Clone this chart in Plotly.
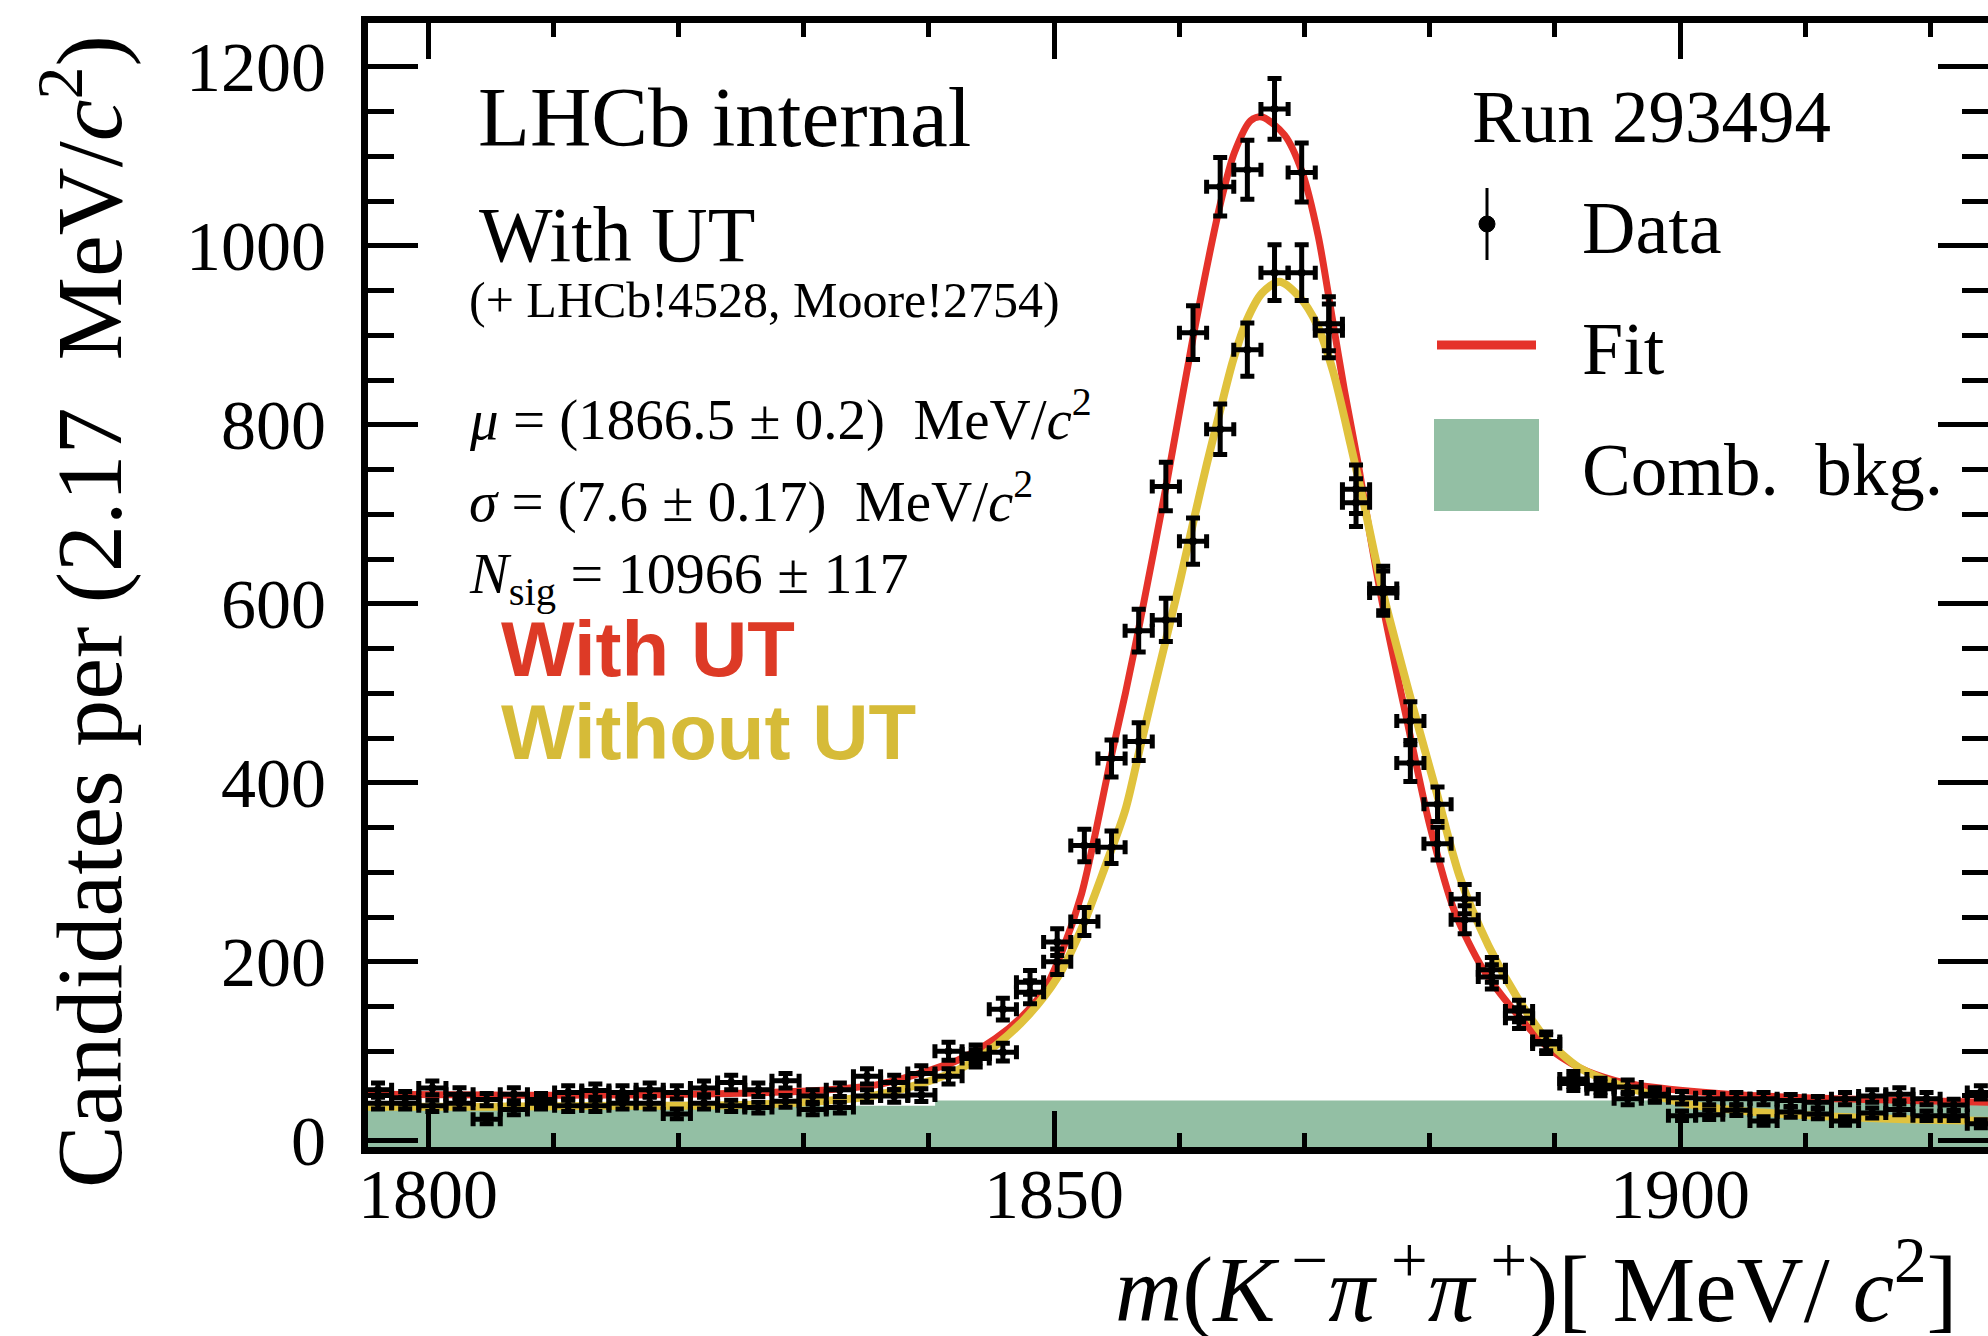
import numpy as np
import plotly.graph_objects as go

# ---------------- data ----------------
bin_width = 2.17
mass_centers = [1796.00, 1798.17, 1800.34, 1802.51, 1804.68, 1806.85, 1809.02, 1811.19, 1813.36, 1815.53,
                1817.70, 1819.87, 1822.04, 1824.21, 1826.38, 1828.55, 1830.72, 1832.89, 1835.06, 1837.23,
                1839.40, 1841.57, 1843.74, 1845.91, 1848.08, 1850.25, 1852.42, 1854.59, 1856.76, 1858.93,
                1861.10, 1863.27, 1865.44, 1867.61, 1869.78, 1871.95, 1874.12, 1876.29, 1878.46, 1880.63,
                1882.80, 1884.97, 1887.14, 1889.31, 1891.48, 1893.65, 1895.82, 1897.99, 1900.16, 1902.33,
                1904.50, 1906.67, 1908.84, 1911.01, 1913.18, 1915.35, 1917.52, 1919.69, 1921.86, 1924.03]

counts_with_ut = [57, 48, 59, 52, 46, 52, 46, 54, 56, 54,
                  57, 54, 59, 65, 57, 67, 50, 57, 72, 65,
                  75, 100, 97, 147, 177, 222, 330, 427, 570, 731,
                  903, 1066, 1085, 1153, 1082, 913, 728, 617, 422, 332,
                  247, 183, 137, 108, 69, 62, 60, 52, 48, 47,
                  47, 47, 45, 43, 47, 50, 52, 47, 40, 54]

counts_without_ut = [42, 42, 39, 42, 24, 35, 42, 39, 39, 42,
                     42, 30, 42, 39, 37, 44, 35, 37, 50, 50,
                     51, 72, 92, 99, 166, 200, 245, 328, 446, 582,
                     670, 795, 884, 970, 970, 905, 713, 612, 469, 376,
                     270, 191, 145, 111, 64, 58, 47, 50, 28, 29,
                     34, 22, 32, 30, 22, 31, 35, 28, 28, 19]

fit_mass_with_ut = [1795, 1805, 1815, 1825, 1832, 1836, 1839.2, 1842.3, 1845.3, 1847.3, 1849.2, 1850.7,
                    1852.2, 1853.4, 1854.5, 1855.7, 1856.8, 1859.0, 1861.2, 1863.3, 1864.4, 1865.7,
                    1866.6, 1868.4, 1869.8, 1871.1, 1872.2, 1873.2, 1874.3, 1875.3, 1876.4, 1878.2,
                    1880.0, 1882.0, 1884.3, 1887.0, 1889.3, 1891.9, 1894.9, 1897.7, 1905, 1915, 1925]
fit_value_with_ut = [52, 51, 51, 53, 57, 63, 75, 90, 114, 137, 168, 214,
                     276, 350, 425, 500, 575, 735, 905, 1048, 1104, 1140,
                     1144, 1124, 1083, 1011, 921, 838, 756, 672, 588, 469,
                     353, 256, 191, 141, 106, 82, 67, 60, 51, 46, 43]

fit_mass_without_ut = [1795, 1805, 1815, 1825, 1830, 1835, 1839.2, 1842.3, 1845.3, 1848.0, 1850.3, 1852.2,
                       1854.1, 1855.7, 1856.8, 1857.9, 1859.2, 1860.1, 1861.1, 1862.2, 1863.3, 1864.3,
                       1865.4, 1866.6, 1868.0, 1869.6, 1871.0, 1872.3, 1873.7, 1874.7, 1876.3, 1878.6,
                       1880.5, 1882.4, 1884.7, 1887.0, 1889.3, 1891.9, 1895.0, 1897.6, 1901, 1906,
                       1912, 1918, 1925]
fit_value_without_ut = [38, 38, 39, 40, 43, 49, 63, 79, 106, 141, 183, 237,
                        307, 370, 435, 500, 575, 628, 690, 756, 818, 872,
                        917, 947, 960, 943, 912, 859, 777, 715, 611, 488,
                        392, 295, 218, 160, 114, 82, 63, 52, 40, 32,
                        27, 24, 22]

bkg_mass = [1795.2, 1840.5, 1840.5, 1924.6]
bkg_value = [39, 39, 45, 45]

x_range = [1795.2, 1924.6]
y_range = [-7, 1249]
x_ticks = [1800, 1850, 1900]
y_ticks = [0, 200, 400, 600, 800, 1000, 1200]

# ---------------- styling ----------------
W, H = 1988, 1336
L, R, T, B = 368, 0, 23, 189
PW, PH = W - L - R, H - T - B
RED = "#E5322A"
YELLOW = "#E0C23D"
GREEN = "#93BFA4"
SERIF = "Liberation Serif"
SANS = "Liberation Sans"


def fx(px):
    return (px - L) / PW


def fy(py):
    return (H - B - py) / PH


half_bin = [bin_width / 2] * len(mass_centers)

fig = go.Figure()

# floor of the frame, so the background band reaches the bottom axis
fig.add_trace(go.Scatter(x=[x_range[0], x_range[1]], y=[y_range[0], y_range[0]], mode="lines",
                         line=dict(width=0, color=GREEN), showlegend=False, hoverinfo="skip"))
fig.add_trace(go.Scatter(x=bkg_mass, y=bkg_value, mode="lines", fill="tonexty",
                         fillcolor=GREEN, line=dict(width=0, color=GREEN),
                         name="Comb. bkg.", showlegend=False, hoverinfo="skip"))
fig.add_trace(go.Scatter(x=fit_mass_with_ut, y=fit_value_with_ut, mode="lines",
                         line=dict(color=RED, width=7, shape="spline", smoothing=0.8),
                         name="Fit (with UT)", showlegend=False))
fig.add_trace(go.Scatter(x=fit_mass_without_ut, y=fit_value_without_ut, mode="lines",
                         line=dict(color=YELLOW, width=8, shape="spline", smoothing=0.8),
                         name="Fit (without UT)", showlegend=False))

for counts, nm in [(counts_with_ut, "Data (with UT)"), (counts_without_ut, "Data (without UT)")]:
    fig.add_trace(go.Scatter(
        x=mass_centers, y=counts, mode="markers", name=nm, showlegend=False,
        marker=dict(color="black", size=8),
        error_y=dict(type="data", array=np.sqrt(np.array(counts, dtype=float)),
                     color="black", thickness=5, width=7),
        error_x=dict(type="data", array=half_bin, color="black", thickness=5, width=7),
    ))

axis_common = dict(showline=True, linecolor="black", linewidth=7, mirror="allticks",
                   ticks="inside", tickcolor="black", tickwidth=5, showgrid=False,
                   zeroline=False, tickfont=dict(family=SERIF, size=70, color="black"))

fig.update_xaxes(range=x_range, tickvals=x_ticks, ticklen=36,
                 ticklabelstandoff=-20,
                 minor=dict(dtick=10, tick0=1800, ticks="inside", ticklen=14,
                            tickwidth=5, tickcolor="black"),
                 **axis_common)
fig.update_yaxes(range=y_range, tickvals=y_ticks, ticklen=50,
                 ticklabelstandoff=21,
                 minor=dict(dtick=50, tick0=0, ticks="inside", ticklen=26,
                            tickwidth=5, tickcolor="black"),
                 **axis_common)

ann = []


def text(px, py, s, size, family=SERIF, color="black", xanchor="left", angle=0):
    ann.append(dict(x=fx(px), y=fy(py), xref="paper", yref="paper", text=s, showarrow=False,
                    xanchor=xanchor, yanchor="middle", textangle=angle,
                    font=dict(family=family, size=size, color=color)))


text(476, 117, "LHCb internal", 85)
text(477, 235, "With UT", 78)
text(467, 300, "(+ LHCb!4528, Moore!2754)", 50)
text(467, 415, "<i>μ</i> = (1866.5 ± 0.2)  MeV/<i>c</i><sup>2</sup>", 57)
text(467, 497, "<i>σ</i> = (7.6 ± 0.17)  MeV/<i>c</i><sup>2</sup>", 57)
text(467, 577, "<i>N</i><sub>sig</sub> = 10966 ± 117", 58)
text(499, 649, "<b>With UT</b>", 78, family=SANS, color="#DD3A26")
text(499, 732, "<b>Without UT</b>", 78, family=SANS, color="#D6BB38")
text(1470, 117, "Run 293494", 73)
text(1580, 228, "Data", 74)
text(1580, 349, "Fit", 74)
text(1580, 470, "Comb.  bkg.", 73)
ann.append(dict(x=fx(82), y=fy(612), xref="paper", yref="paper", showarrow=False,
                text="Candidates per (2.17  MeV/<i>c</i><sup>2</sup>)", textangle=-90,
                xanchor="center", yanchor="middle",
                font=dict(family=SERIF, size=94, color="black")))
ann.append(dict(x=fx(1960), y=fy(1282), xref="paper", yref="paper", showarrow=False,
                text="<i>m</i>(<i>K</i><sup> −</sup><i>π</i><sup> +</sup><i>π</i><sup> +</sup>)[ MeV/ <i>c</i><sup>2</sup>]",
                xanchor="right", yanchor="middle",
                font=dict(family=SERIF, size=93, color="black")))

shapes = [
    # legend: data symbol
    dict(type="line", xref="paper", yref="paper", x0=fx(1487), x1=fx(1487), y0=fy(188), y1=fy(260),
         line=dict(color="black", width=3)),
    dict(type="circle", xref="paper", yref="paper", x0=fx(1479), x1=fx(1495), y0=fy(216), y1=fy(232),
         fillcolor="black", line=dict(color="black", width=1)),
    # legend: fit line
    dict(type="line", xref="paper", yref="paper", x0=fx(1437), x1=fx(1536), y0=fy(345), y1=fy(345),
         line=dict(color=RED, width=9)),
    # legend: background box
    dict(type="rect", xref="paper", yref="paper", x0=fx(1434), x1=fx(1539), y0=fy(419), y1=fy(511),
         fillcolor=GREEN, line=dict(width=0)),
]

fig.update_layout(width=W, height=H, margin=dict(l=L, r=R, t=T, b=B, autoexpand=False),
                  paper_bgcolor="white", plot_bgcolor="white", showlegend=False,
                  annotations=ann, shapes=shapes)

fig.write_html("out.html")
